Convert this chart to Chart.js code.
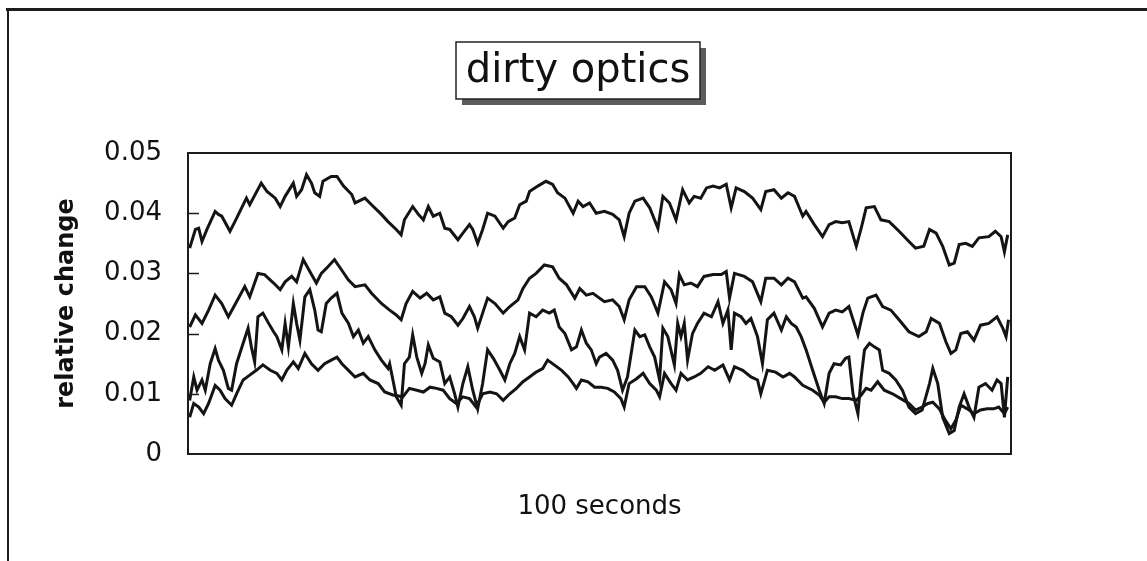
<!DOCTYPE html>
<html>
<head>
<meta charset="utf-8">
<script src="https://cdn.jsdelivr.net/npm/chart.js@4.4.1/dist/chart.umd.min.js"></script>
<style>
  html, body { margin: 0; padding: 0; background: #fff; }
  canvas { display: block; }
</style>
</head>
<body>
<canvas id="c" width="1147" height="561"></canvas>
<script>
// ---- text ----
const chartTitle = 'dirty optics';
const yAxisTitle = 'relative change';
const xAxisTitle = '100 seconds';

// ---- y-axis ticks ----
const yTickValues = [0, 0.01, 0.02, 0.03, 0.04, 0.05];

// ---- series: [time (s), relative change] ----
const seriesA = [
  [0.2,.0342],[0.9,.0373],[1.3,.0375],[1.7,.0353],[2.3,.0373],[3.3,.0403],[3.7,.0398],[4.1,.0395],[5.1,.0370],[5.7,.0386],
  [7.1,.0425],[7.5,.0414],[8.9,.0450],[9.6,.0436],[10.6,.0425],[11.2,.0411],[11.8,.0428],[12.8,.0450],[13.2,.0428],[13.8,.0439],
  [14.4,.0464],[15.0,.0450],[15.4,.0434],[16.0,.0428],[16.4,.0453],[17.4,.0461],[18.1,.0461],[18.9,.0445],[19.9,.0431],[20.3,.0417],
  [21.5,.0425],[22.3,.0414],[23.5,.0398],[24.3,.0386],
  [25.3,.0373],[25.9,.0364],[26.3,.0389],[27.3,.0411],[28.0,.0398],[28.6,.0389],[29.2,.0411],[29.8,.0395],[30.6,.0400],[31.2,.0375],
  [31.8,.0373],[32.8,.0356],[33.4,.0367],[34.2,.0381],[34.6,.0373],[35.2,.0350],[35.8,.0373],[36.4,.0400],[37.3,.0395],[38.3,.0375],
  [38.9,.0386],[39.7,.0392],[40.3,.0414],[41.1,.0420],[41.5,.0436],[42.5,.0445],[43.5,.0453],[44.3,.0448],[44.9,.0434],[45.8,.0425],
  [46.8,.0400],[47.4,.0420],[48.0,.0411],[48.8,.0417],[49.6,.0400],
  [50.6,.0403],[51.6,.0398],[52.4,.0389],[53.0,.0361],[53.6,.0400],[54.3,.0420],[55.3,.0425],[56.1,.0409],[57.1,.0375],[57.7,.0428],
  [58.5,.0417],[59.3,.0389],[60.1,.0439],[60.9,.0417],[61.5,.0428],[62.3,.0425],[63.0,.0442],[63.8,.0445],[64.6,.0442],[65.4,.0448],
  [66.0,.0409],[66.6,.0442],[67.6,.0436],[68.6,.0425],[69.6,.0406],[70.2,.0436],[71.2,.0439],[72.1,.0425],[72.9,.0434],[73.7,.0428],
  [74.7,.0395],
  [75.1,.0403],[76.1,.0381],[77.1,.0361],[77.9,.0381],[78.7,.0386],[79.5,.0384],[80.3,.0386],[81.2,.0345],[81.8,.0375],[82.4,.0409],
  [83.4,.0411],[84.2,.0389],[85.2,.0386],[86.4,.0370],[87.6,.0353],[88.4,.0342],[89.4,.0345],[90.1,.0373],[90.9,.0367],[91.7,.0345],
  [92.5,.0314],[93.1,.0317],[93.7,.0348],[94.5,.0350],[95.3,.0345],[96.1,.0359],[97.3,.0361],[98.1,.0370],[98.8,.0361],[99.2,.0336],
  [99.6,.0364]
];
const seriesB = [
  [0.2,.0211],[0.9,.0231],[1.7,.0217],[2.5,.0239],[3.3,.0264],[4.1,.0250],[4.9,.0228],[5.7,.0248],[6.9,.0278],[7.5,.0261],
  [8.5,.0300],[9.3,.0298],[10.4,.0284],[11.2,.0273],[11.8,.0286],[12.6,.0295],[13.2,.0286],[14.0,.0323],[14.8,.0303],[15.6,.0284],
  [16.2,.0300],[17.0,.0311],[17.8,.0323],[18.5,.0309],[19.5,.0289],[20.3,.0278],[21.5,.0281],[22.3,.0267],[23.5,.0250],[24.5,.0239],
  [25.3,.0231],[25.9,.0223],[26.5,.0250],[27.3,.0270],[28.2,.0259],[29.0,.0267],[29.8,.0256],[30.6,.0261],[31.2,.0234],[32.0,.0228],
  [32.8,.0214],[33.4,.0225],[34.2,.0245],[34.8,.0228],[35.2,.0209],[35.8,.0234],[36.4,.0259],[37.3,.0250],[38.3,.0234],[39.1,.0245],
  [40.1,.0256],[40.7,.0275],[41.5,.0292],[42.3,.0300],[43.3,.0314],[44.3,.0311],[45.1,.0292],[46.0,.0281],[47.0,.0259],[47.6,.0275],
  [48.4,.0264],[49.2,.0267],
  [50.6,.0253],[51.6,.0256],[52.4,.0245],[53.0,.0223],[53.6,.0256],[54.5,.0278],[55.5,.0278],[56.3,.0261],[57.1,.0234],[57.9,.0286],
  [58.7,.0273],[59.3,.0250],[59.7,.0298],[60.3,.0281],[61.1,.0284],[61.9,.0278],[62.7,.0295],[63.8,.0298],[64.8,.0298],[65.4,.0303],
  [65.8,.0259],[66.4,.0300],[67.6,.0295],[68.6,.0286],[69.6,.0253],[70.2,.0292],[71.2,.0292],[72.1,.0281],[72.9,.0292],[73.7,.0286],
  [74.7,.0259],
  [75.1,.0261],[76.1,.0242],[77.1,.0211],[77.9,.0234],[78.7,.0239],[79.5,.0236],[80.3,.0245],[81.4,.0198],[82.0,.0234],[82.6,.0259],
  [83.6,.0264],[84.4,.0245],[85.4,.0239],[86.4,.0223],[87.6,.0203],[88.8,.0195],[89.7,.0203],[90.3,.0225],[91.3,.0217],[92.1,.0186],
  [92.7,.0167],[93.3,.0173],[93.9,.0200],[94.7,.0203],[95.5,.0189],[96.3,.0214],[97.3,.0217],[98.3,.0228],[99.0,.0209],[99.4,.0195],
  [99.7,.0223]
];
const seriesC = [
  [0.2,.0089],[0.7,.0128],[1.1,.0106],[1.7,.0123],[2.1,.0106],[2.7,.0150],[3.3,.0175],[3.7,.0156],[4.3,.0139],[4.9,.0109],
  [5.3,.0106],[5.9,.0150],[6.7,.0184],[7.3,.0209],[7.7,.0178],[8.1,.0153],[8.5,.0228],[9.1,.0234],[9.8,.0217],[10.4,.0203],
  [10.8,.0195],[11.4,.0173],[11.8,.0217],[12.2,.0178],[12.8,.0250],[13.2,.0217],[13.6,.0189],[14.2,.0261],[14.8,.0273],[15.4,.0239],
  [15.8,.0206],[16.2,.0203],[16.8,.0250],[17.4,.0259],[18.1,.0267],[18.7,.0234],[19.5,.0217],[20.1,.0195],[20.7,.0206],[21.3,.0184],
  [21.9,.0195],[22.7,.0173],[23.5,.0156],[24.3,.0142],
  [24.5,.0150],[24.9,.0123],[25.3,.0095],[25.9,.0081],[26.3,.0150],[26.9,.0161],[27.3,.0198],[27.8,.0161],[28.4,.0134],[28.8,.0150],
  [29.2,.0181],[29.8,.0159],[30.6,.0153],[31.2,.0117],[31.8,.0128],[32.4,.0100],[32.8,.0078],[33.4,.0117],[34.0,.0145],[34.6,.0106],
  [35.2,.0075],[35.8,.0117],[36.4,.0173],[37.1,.0159],[37.9,.0139],[38.5,.0123],[39.1,.0150],[39.7,.0167],[40.3,.0195],[40.9,.0173],
  [41.5,.0234],[42.3,.0228],[43.1,.0239],[43.9,.0234],[44.5,.0239],[45.1,.0211],[45.8,.0200],[46.6,.0173],[47.2,.0178],[47.8,.0206],
  [48.4,.0184],[49.0,.0173],[49.6,.0150],
  [50.0,.0161],[50.8,.0167],[51.6,.0156],[52.2,.0139],[52.8,.0106],[53.4,.0128],[54.3,.0206],[54.9,.0195],[55.5,.0198],[56.1,.0178],
  [56.7,.0161],[57.3,.0123],[57.7,.0209],[58.3,.0195],[59.1,.0148],[59.5,.0217],[59.9,.0195],[60.3,.0217],[60.7,.0156],[61.3,.0200],
  [61.9,.0217],[62.7,.0234],[63.6,.0228],[64.4,.0253],[65.0,.0217],[65.6,.0239],[66.0,.0173],[66.4,.0234],[67.2,.0228],[67.8,.0217],
  [68.4,.0225],[69.2,.0195],[69.8,.0150],[70.4,.0223],[71.2,.0234],[72.1,.0206],[72.7,.0228],[73.3,.0217],[73.9,.0211],[74.5,.0195],
  [75.1,.0173],[75.9,.0139],[76.7,.0106],[77.3,.0084],[77.9,.0134],[78.5,.0150],[79.3,.0148],[79.9,.0159],[80.3,.0161],[80.8,.0100],
  [81.4,.0067],[81.8,.0128],[82.2,.0173],[82.8,.0184],[83.4,.0178],[84.0,.0173],[84.4,.0139],[85.2,.0134],[86.0,.0123],[86.8,.0106],
  [87.6,.0078],[88.4,.0067],[89.2,.0073],[90.1,.0117],[90.5,.0142],[91.1,.0117],[91.7,.0061],[92.5,.0034],[93.1,.0039],[93.7,.0078],
  [94.3,.0100],[94.9,.0078],[95.5,.0061],[96.1,.0111],[96.9,.0117],[97.7,.0106],[98.3,.0123],[98.8,.0117],[99.2,.0061],[99.6,.0128]
];
const seriesD = [
  [0.2,.0061],[0.7,.0084],[1.3,.0078],[1.9,.0067],[2.5,.0084],[3.3,.0114],[3.9,.0106],[4.5,.0092],[5.3,.0081],[5.9,.0100],
  [6.7,.0123],[7.5,.0131],[8.3,.0139],[9.1,.0148],[10.0,.0139],[10.8,.0134],[11.4,.0123],[12.0,.0139],[12.8,.0153],[13.4,.0142],
  [14.2,.0167],[15.0,.0150],[15.8,.0139],[16.6,.0150],[17.4,.0156],[18.1,.0161],[18.7,.0150],[19.5,.0139],[20.3,.0128],[21.3,.0134],
  [22.1,.0123],[23.1,.0117],[23.9,.0103],[24.9,.0098],
  [26.1,.0095],[26.9,.0109],[27.8,.0106],[28.6,.0103],[29.4,.0111],[30.2,.0109],[31.0,.0106],[31.8,.0092],[32.6,.0084],[33.4,.0095],
  [34.2,.0092],[35.0,.0078],[35.8,.0100],[36.7,.0103],[37.5,.0100],[38.3,.0089],[39.1,.0100],[39.9,.0109],[40.7,.0120],[41.5,.0128],
  [42.3,.0136],[43.1,.0142],[43.7,.0156],[44.5,.0148],[45.4,.0139],[46.2,.0128],[46.8,.0117],[47.2,.0109],[47.8,.0123],[48.6,.0120],
  [49.4,.0111],
  [50.2,.0111],[51.0,.0109],[51.8,.0103],[52.6,.0092],[53.0,.0078],[53.6,.0117],[54.5,.0125],[55.3,.0134],[56.1,.0117],[56.9,.0106],
  [57.3,.0095],[57.9,.0134],[58.7,.0117],[59.3,.0106],[59.9,.0134],[60.7,.0123],[61.5,.0128],[62.3,.0134],[63.2,.0145],[64.0,.0139],
  [65.0,.0148],[65.8,.0123],[66.4,.0145],[67.4,.0139],[68.4,.0128],[69.2,.0123],[69.6,.0100],[70.4,.0139],[71.4,.0136],[72.3,.0128],
  [73.1,.0134],[73.7,.0128],[74.7,.0114],
  [75.9,.0106],[76.7,.0098],[77.3,.0086],[77.9,.0095],[78.7,.0095],[79.5,.0092],[80.3,.0092],[81.2,.0089],[81.8,.0098],[82.4,.0109],
  [83.0,.0106],[83.8,.0120],[84.6,.0106],[85.6,.0100],[86.6,.0092],[87.6,.0084],[88.4,.0073],[89.2,.0078],[89.9,.0084],[90.5,.0086],
  [91.3,.0075],[91.9,.0059],[92.7,.0042],[93.3,.0056],[93.9,.0081],[94.7,.0075],[95.5,.0067],[96.3,.0073],[97.1,.0075],[97.9,.0075],
  [98.5,.0078],[99.2,.0067],[99.6,.0078]
];

const allSeries = [seriesA, seriesB, seriesC, seriesD];

const decor = {
  id: 'decor',
  beforeDraw(chart) {
    const ctx = chart.ctx;
    ctx.save();
    ctx.fillStyle = '#fff';
    ctx.fillRect(0, 0, chart.width, chart.height);
    // outer frame (top and left edges)
    ctx.strokeStyle = '#1c1c1c';
    ctx.lineWidth = 3;
    ctx.beginPath(); ctx.moveTo(6, 9.5); ctx.lineTo(chart.width, 9.5); ctx.stroke();
    ctx.lineWidth = 2;
    ctx.beginPath(); ctx.moveTo(8, 8); ctx.lineTo(8, chart.height); ctx.stroke();
    // title box with shadow
    const bx = 456, by = 42, bw = 244, bh = 57;
    ctx.fillStyle = '#5c5c5c';
    ctx.fillRect(bx + 6, by + 6, bw, bh);
    ctx.fillStyle = '#fff';
    ctx.fillRect(bx, by, bw, bh);
    ctx.lineWidth = 1.5;
    ctx.strokeStyle = '#222';
    ctx.strokeRect(bx, by, bw, bh);
    ctx.fillStyle = '#111';
    ctx.font = '40px "DejaVu Sans"';
    ctx.textAlign = 'center';
    ctx.textBaseline = 'middle';
    ctx.fillText(chartTitle, bx + bw / 2, by + bh / 2 + 1);
    ctx.restore();
  },
  afterDatasetsDraw(chart) {
    const {ctx, chartArea: {left, top, right, bottom}, scales: {y}} = chart;
    ctx.save();
    ctx.strokeStyle = '#1c1c1c';
    ctx.lineWidth = 2;
    ctx.strokeRect(left, top, right - left, bottom - top);
    ctx.lineWidth = 1.5;
    y.ticks.forEach(t => {
      if (t.value > y.min && t.value < y.max) {
        const py = Math.round(y.getPixelForValue(t.value)) + 0.5;
        ctx.beginPath(); ctx.moveTo(left, py); ctx.lineTo(left + 11, py); ctx.stroke();
      }
    });
    ctx.restore();
  }
};

new Chart(document.getElementById('c'), {
  type: 'line',
  data: {
    datasets: allSeries.map(s => ({
      data: s.map(([x, y]) => ({x, y})),
      borderColor: '#141414',
      borderWidth: 3,
      borderJoinStyle: 'miter',
      pointRadius: 0,
      tension: 0,
      fill: false
    }))
  },
  options: {
    responsive: false,
    animation: false,
    layout: { padding: { top: 153, right: 136, left: 0, bottom: 0 } },
    plugins: { legend: { display: false }, tooltip: { enabled: false }, title: { display: false } },
    scales: {
      x: {
        type: 'linear', min: 0, max: 100,
        grid: { display: false, drawTicks: false },
        border: { display: false },
        ticks: { display: false },
        title: { display: true, text: xAxisTitle, color: '#111',
                 font: { family: 'DejaVu Sans', size: 26 }, padding: { top: 0, bottom: 38 } },
        afterFit(scale) { scale.height = 107; }
      },
      y: {
        type: 'linear', min: 0, max: 0.05,
        afterBuildTicks(scale) { scale.ticks = yTickValues.map(v => ({ value: v })); },
        grid: { display: false, drawTicks: false },
        border: { display: false },
        ticks: { color: '#111', padding: 26, font: { family: 'DejaVu Sans', size: 26 },
                 callback: v => String(v) },
        title: { display: true, text: yAxisTitle, color: '#111',
                 font: { family: 'DejaVu Sans', size: 24, weight: 'bold' }, padding: { top: 52, bottom: 0 } },
        afterFit(scale) { scale.width = 188; }
      }
    }
  },
  plugins: [decor]
});
</script>
</body>
</html>
